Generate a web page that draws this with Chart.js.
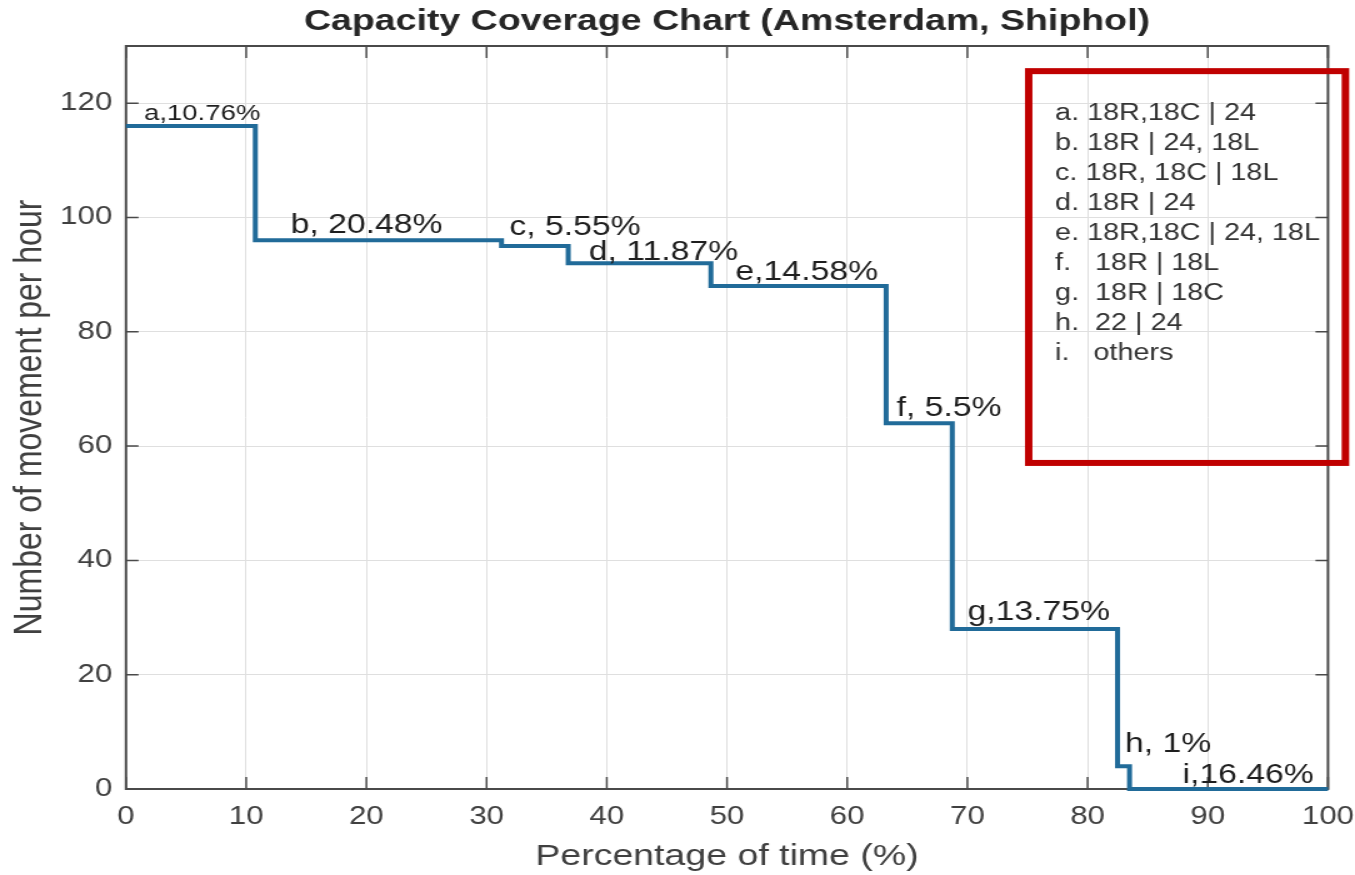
<!DOCTYPE html>
<html>
<head>
<meta charset="utf-8">
<script src="https://cdn.jsdelivr.net/npm/chart.js@4.4.1/dist/chart.umd.min.js"></script>
<style>
html,body{margin:0;padding:0;background:#ffffff;overflow:hidden}
</style>
</head>
<body>
<canvas id="c" width="1084" height="875" style="display:block;width:1355px;height:875px"></canvas>
<script>
// ---------------- data ----------------
const letters = ['a', 'b', 'c', 'd', 'e', 'f', 'g', 'h', 'i'];
const shares = [10.76, 20.48, 5.55, 11.87, 14.58, 5.5, 13.75, 1, 16.46];   // % of time
const levels = [116, 96, 95, 92, 88, 64, 28, 4, 0];                       // movements per hour
const stepLabels = ['a,10.76%', 'b, 20.48%', 'c, 5.55%', 'd, 11.87%', 'e,14.58%', 'f, 5.5%', 'g,13.75%', 'h, 1%', 'i,16.46%'];
const legendLines = [
  'a. 18R,18C | 24',
  'b. 18R | 24, 18L',
  'c. 18R, 18C | 18L',
  'd. 18R | 24',
  'e. 18R,18C | 24, 18L',
  'f.   18R | 18L',
  'g.  18R | 18C',
  'h.  22 | 24',
  'i.   others'
];
const xTickStep = 10, xMin = 0, xMax = 100;
const yTickStep = 20, yMin = 0, yMax = 130;

// ---------------- annotation placement (data units) ----------------
const labelAnchorX = [1.5, 13.7, 31.9, 38.5, 50.7, 64.1, 70.0, 83.1, 87.9];
const labelAnchorY = [117.0, 97.3, 96.95, 92.6, 89.1, 65.3, 29.6, 6.5, 1.05];
const labelFontSize = [22, 27, 27, 27, 27, 27, 27, 27, 27];
const legendBox = { x0: 75.1, x1: 101.45, y0: 125.6, y1: 57.05 };
const legendText = { x: 77.3, y: 117.1, rowPx: 30 };

// ---------------- build step points ----------------
const stepPoints = [];
let acc = 0;
shares.forEach((s, i) => { stepPoints.push({ x: acc, y: levels[i] }); acc += s; });
stepPoints.push({ x: xMax, y: levels[levels.length - 1] });

const FONT = "'Liberation Sans', Arial, Helvetica, sans-serif";

const decor = {
  id: 'decor',
  beforeDatasetsDraw(chart) {
    const { ctx, chartArea: a, scales: { x, y } } = chart;
    ctx.save();
    ctx.strokeStyle = '#4a4a4a';
    ctx.lineWidth = 1.5;
    ctx.beginPath();
    x.ticks.forEach(t => {
      const px = x.getPixelForValue(t.value);
      ctx.moveTo(px, a.bottom); ctx.lineTo(px, a.bottom - 12);
      ctx.moveTo(px, a.top); ctx.lineTo(px, a.top + 12);
    });
    y.ticks.forEach(t => {
      const py = y.getPixelForValue(t.value);
      ctx.moveTo(a.left, py); ctx.lineTo(a.left + 10, py);
      ctx.moveTo(a.right, py); ctx.lineTo(a.right - 10, py);
    });
    ctx.stroke();
    ctx.lineWidth = 2;
    ctx.strokeRect(a.left, a.top, a.right - a.left, a.bottom - a.top);
    ctx.restore();
  },
  afterDatasetsDraw(chart) {
    const { ctx, scales: { x, y } } = chart;
    ctx.save();
    ctx.fillStyle = '#1e1e1e';
    ctx.textAlign = 'left';
    ctx.textBaseline = 'alphabetic';
    stepLabels.forEach((t, i) => {
      ctx.font = labelFontSize[i] + 'px ' + FONT;
      ctx.fillText(t, x.getPixelForValue(labelAnchorX[i]), y.getPixelForValue(labelAnchorY[i]));
    });
    const bx0 = x.getPixelForValue(legendBox.x0), bx1 = x.getPixelForValue(legendBox.x1);
    const by0 = y.getPixelForValue(legendBox.y0), by1 = y.getPixelForValue(legendBox.y1);
    ctx.strokeStyle = '#c00000';
    ctx.lineWidth = 6;
    ctx.strokeRect(bx0, by0, bx1 - bx0, by1 - by0);
    ctx.fillStyle = '#333333';
    ctx.font = '23px ' + FONT;
    const lx = x.getPixelForValue(legendText.x);
    const ly = y.getPixelForValue(legendText.y);
    legendLines.forEach((t, i) => ctx.fillText(t, lx, ly + i * legendText.rowPx));
    ctx.restore();
  }
};

const chart = new Chart(document.getElementById('c'), {
  type: 'line',
  data: {
    datasets: [{
      data: stepPoints,
      stepped: 'before',
      borderColor: '#216b99',
      borderWidth: 4,
      pointRadius: 0,
      fill: false,
      clip: false
    }]
  },
  options: {
    responsive: false,
    maintainAspectRatio: false,
    devicePixelRatio: 1,
    animation: false,
    events: [],
    layout: { padding: { left: 0, right: 21.6, top: 0, bottom: 0 } },
    plugins: {
      legend: { display: false },
      tooltip: { enabled: false },
      title: {
        display: true,
        fullSize: false,
        text: 'Capacity Coverage Chart (Amsterdam, Shiphol)',
        color: '#262626',
        font: { family: FONT, size: 30, weight: 'bold', lineHeight: 1 },
        padding: { top: 7, bottom: 9 }
      }
    },
    scales: {
      x: {
        type: 'linear',
        min: xMin, max: xMax,
        afterFit(s) { s.height = 86; s.paddingLeft = 0; s.paddingRight = 0; },
        border: { display: false },
        grid: { color: '#dfdfdf', lineWidth: 1, drawTicks: false },
        ticks: {
          stepSize: xTickStep, includeBounds: false,
          color: '#404040', padding: 13,
          font: { family: FONT, size: 25 },
          maxRotation: 0
        },
        title: {
          display: true, text: 'Percentage of time (%)', color: '#404040',
          font: { family: FONT, size: 30, lineHeight: 1 },
          padding: { top: 0, bottom: 3 }
        }
      },
      y: {
        type: 'linear',
        min: yMin, max: yMax,
        afterFit(s) { s.width = 100.8; s.paddingTop = 0; s.paddingBottom = 0; },
        border: { display: false },
        grid: { color: '#dfdfdf', lineWidth: 1, drawTicks: false },
        ticks: {
          stepSize: yTickStep, includeBounds: false,
          color: '#404040', padding: 11,
          font: { family: FONT, size: 25 }
        },
        title: {
          display: true, text: 'Number of movement per hour', color: '#404040',
          font: { family: FONT, size: 32, lineHeight: 1 },
          padding: { top: 8, bottom: 0 }
        }
      }
    }
  },
  plugins: [decor]
});
const cv = document.getElementById('c');
cv.style.width = '1355px';
cv.style.height = '875px';
</script>
</body>
</html>
